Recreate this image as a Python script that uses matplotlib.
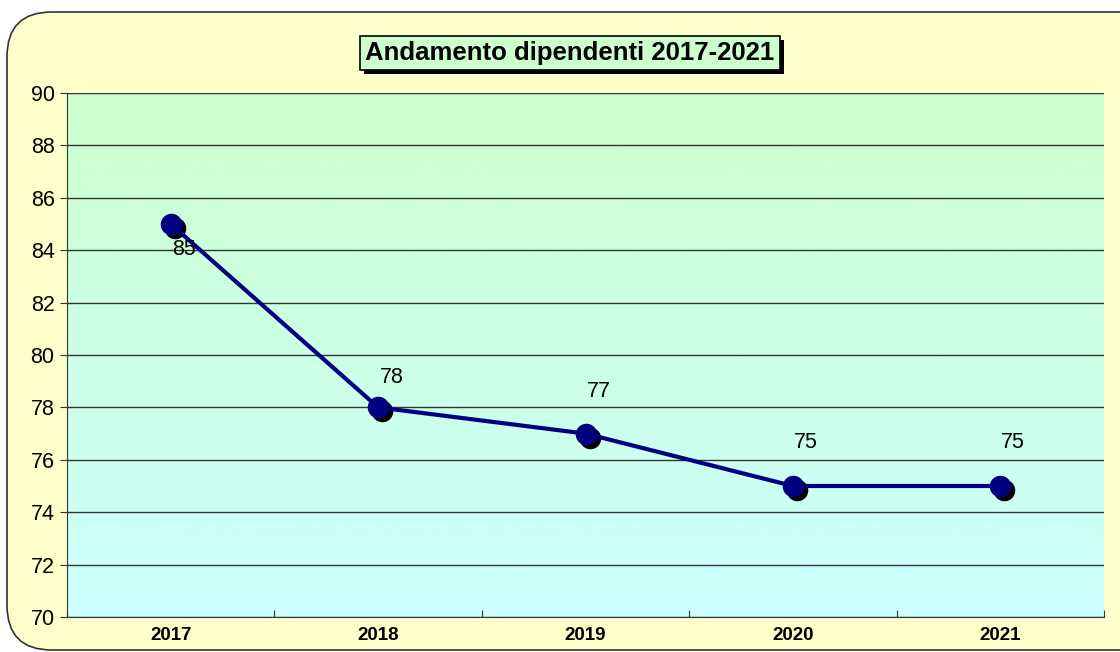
import numpy as np
import matplotlib.pyplot as plt
from matplotlib.patches import FancyBboxPatch, Rectangle
from matplotlib.colors import LinearSegmentedColormap
import matplotlib.transforms as mtransforms

plt.rcParams['font.family'] = ['Liberation Sans', 'DejaVu Sans']

# data
years = ['2017', '2018', '2019', '2020', '2021']
dipendenti = [85, 78, 77, 75, 75]
y_ticks = [70, 72, 74, 76, 78, 80, 82, 84, 86, 88, 90]

# label offsets in pixels (dx, dy)
label_off = [(13, -26), (14, 30), (13, 42), (13, 43), (13, 43)]

fig = plt.figure(figsize=(11.2, 6.52), dpi=100)
fig.patch.set_facecolor('white')

# rounded outer frame
frame = FancyBboxPatch((7 / 1120, 2 / 652), 1.2, 638 / 652,
                       boxstyle='round,pad=0,rounding_size=0.04',
                       transform=fig.transFigure, facecolor='#FFFFCC',
                       edgecolor='#333333', linewidth=1.2, zorder=-10,
                       mutation_aspect=1120 / 652)
fig.patches.append(frame)

ax = fig.add_axes([67 / 1120, 35 / 652, 1037 / 1120, 524 / 652])
ax.set_facecolor('none')

x = np.arange(len(years))
ax.set_xlim(-0.5, len(years) - 0.5)
ax.set_ylim(70, 90)

# gradient background
cmap = LinearSegmentedColormap.from_list('bg', ['#CCFFFF', '#CCFFCC'])
grad = np.linspace(0, 1, 256).reshape(-1, 1)
ax.imshow(grad, cmap=cmap, aspect='auto', origin='lower',
          extent=(-0.5, len(years) - 0.5, 70, 90), zorder=0)

ax.set_yticks(y_ticks)
ax.yaxis.grid(True, color='#333333', linewidth=1.0, zorder=1)
ax.set_axisbelow(False)
ax.set_xticks(np.arange(-0.5, len(years), 1.0))
ax.set_xticklabels([])
ax.set_xticks(x, minor=True)
ax.set_xticklabels(years, minor=True, fontsize=13.5, fontweight='bold')
ax.tick_params(axis='x', which='minor', length=0, pad=7)
ax.tick_params(axis='x', which='major', length=5, direction='in', color='#333333')
ax.tick_params(axis='y', length=5, labelsize=15.5, color='#333333', pad=4)
for s in ['top', 'right']:
    ax.spines[s].set_visible(False)
for s in ['left', 'bottom']:
    ax.spines[s].set_color('#333333')

# line with shadowed markers
shadow = mtransforms.offset_copy(ax.transData, fig=fig, x=4, y=-4, units='dots')
ax.plot(x, dipendenti, 'o', color='black', markersize=14.5, transform=shadow, zorder=3)
ax.plot(x, dipendenti, '-', color='#000080', linewidth=3, zorder=4)
ax.plot(x, dipendenti, 'o', color='#000080', markersize=14.5, zorder=5)

for i, v in enumerate(dipendenti):
    dx, dy = label_off[i]
    ax.annotate(str(v), (x[i], v), xytext=(dx * 0.72, dy * 0.72), textcoords='offset points',
                ha='center', va='center', fontsize=15.5, zorder=6)

# title box with shadow
title = 'Andamento dipendenti 2017-2021'
t = fig.text(570 / 1120, 599 / 652, title, ha='center', va='center',
             fontsize=18.5, fontweight='bold', zorder=5,
             bbox=dict(boxstyle='square,pad=0.2', facecolor='#CCFFCC', edgecolor='black',
                       linewidth=1.2))
fig.canvas.draw()
bb = t.get_bbox_patch().get_window_extent()
fig.patches.append(Rectangle((bb.x0 + 4, bb.y0 - 4), bb.width, bb.height,
                             transform=None, facecolor='black', edgecolor='none', zorder=4))

fig.savefig('out.png', dpi=100)
